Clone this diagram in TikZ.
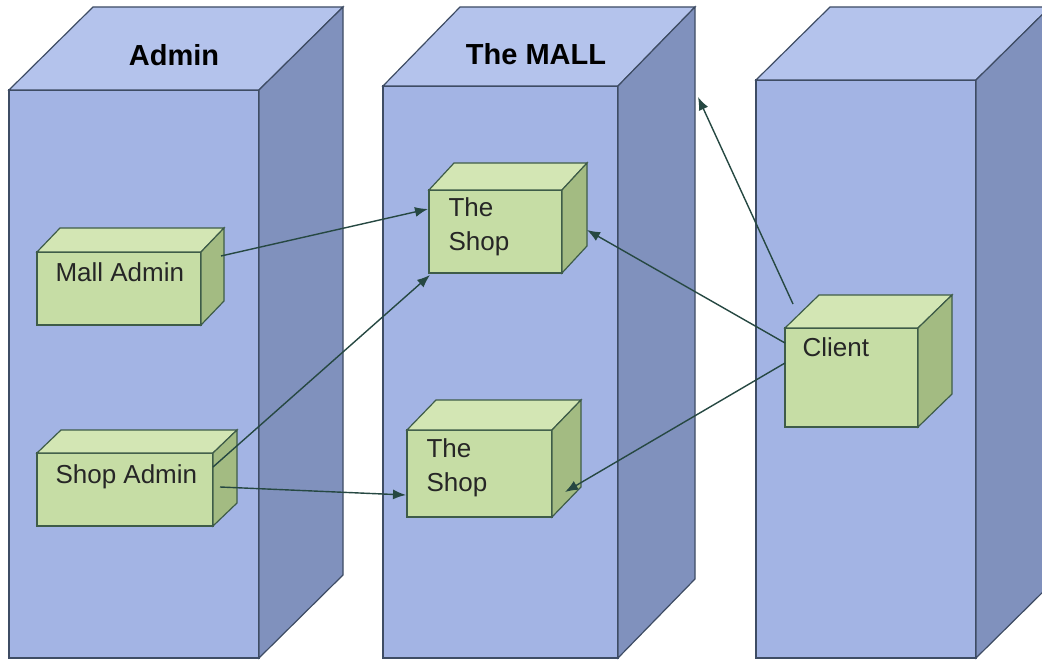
\documentclass[tikz,border=0pt]{standalone}
\usepackage{fontspec}
\setmainfont{Liberation Sans}
\usetikzlibrary{arrows.meta}

\definecolor{blueFront}{RGB}{163,180,228}
\definecolor{blueTop}{RGB}{180,195,236}
\definecolor{blueSide}{RGB}{128,145,189}
\definecolor{blueEdge}{RGB}{62,76,100}
\definecolor{greenFront}{RGB}{198,221,165}
\definecolor{greenTop}{RGB}{211,230,180}
\definecolor{greenSide}{RGB}{163,187,130}
\definecolor{greenEdge}{RGB}{62,92,72}
\definecolor{linkCol}{RGB}{38,72,66}

\tikzset{
  x=1pt, y=-1pt,
  column/.style={rectangle, fill=blueFront, draw=blueEdge, line width=1.2pt,
    inner sep=0pt, outer sep=0pt, anchor=north west},
  part/.style={rectangle, fill=greenFront, draw=greenEdge, line width=1.3pt,
    inner sep=0pt, outer sep=0pt, anchor=north west},
  title/.style={font=\fontsize{29}{34}\selectfont\bfseries, text=black, anchor=base},
  label/.style={font=\fontsize{26}{30}\selectfont, text=black!85, anchor=base west},
  link/.style={draw=linkCol, line width=1.4pt, -{Latex[length=13pt,width=10pt]}},
}

% top and right faces of a box whose front face is node #1, depth (#2,#3)
\newcommand\boxdepth[6]{%
  \draw[fill=#4, draw=#6, line width=1.2pt, line join=miter]
    (#1.north west) -- ++(#2,-#3) -- ([shift={(#2,-#3)}]#1.north east)
    -- (#1.north east) -- cycle;
  \draw[fill=#5, draw=#6, line width=1.2pt, line join=miter]
    (#1.north east) -- ++(#2,-#3) -- ([shift={(#2,-#3)}]#1.south east)
    -- (#1.south east) -- cycle;
}

\begin{document}
\begin{tikzpicture}
\useasboundingbox (0,0) rectangle (1042,660);
\fill[white] (0,0) rectangle (1042,660);
\clip (0,0) rectangle (1042,660);

% the three columns
\node[column, minimum width=250pt, minimum height=568pt] (admin) at (9,90) {};
\boxdepth{admin}{84}{83}{blueTop}{blueSide}{blueEdge}
\node[column, minimum width=235pt, minimum height=572pt] (mall) at (383,86) {};
\boxdepth{mall}{77}{79}{blueTop}{blueSide}{blueEdge}
\node[column, minimum width=220pt, minimum height=578pt] (clientcol) at (756,80) {};
\boxdepth{clientcol}{74}{73}{blueTop}{blueSide}{blueEdge}

\node[title] (admintitle) at (174,66) {Admin};
\node[title] (malltitle) at (536,65) {The MALL};

% the parts inside the columns
\node[part, minimum width=164pt, minimum height=73pt] (malladmin) at (37,252) {};
\boxdepth{malladmin}{23}{24}{greenTop}{greenSide}{greenEdge}
\node[label] (malladmintext) at (52,282) {Mall Admin};

\node[part, minimum width=176pt, minimum height=73pt] (shopadmin) at (37,453) {};
\boxdepth{shopadmin}{24}{23}{greenTop}{greenSide}{greenEdge}
\node[label] (shopadmintext) at (52,483) {Shop Admin};

\node[part, minimum width=133pt, minimum height=83pt] (shopa) at (429,190) {};
\boxdepth{shopa}{25}{27}{greenTop}{greenSide}{greenEdge}
\node[label] (shopathe) at (445,217) {The};
\node[label] (shopashop) at (445,251) {Shop};

\node[part, minimum width=145pt, minimum height=87pt] (shopb) at (407,430) {};
\boxdepth{shopb}{29}{30}{greenTop}{greenSide}{greenEdge}
\node[label] (shopbthe) at (423,457) {The};
\node[label] (shopbshop) at (423,491) {Shop};

\node[part, minimum width=133pt, minimum height=99pt] (client) at (785,328) {};
\boxdepth{client}{34}{33}{greenTop}{greenSide}{greenEdge}
\node[label] (clienttext) at (799,356) {Client};

% connector end points on the box faces
\coordinate (mallAdminOut) at (221,256);
\coordinate (shopAdminUp) at (213,467);
\coordinate (shopAdminOut) at (220,487);
\coordinate (shopAIn) at (428,209);
\coordinate (shopALow) at (430,275);
\coordinate (shopASide) at (587,230);
\coordinate (shopBIn) at (406,495);
\coordinate (shopBSide) at (565,492);
\coordinate (clientTop) at (793,304);
\coordinate (clientUp) at (785,343);
\coordinate (clientLow) at (785,363);
\coordinate (mallSide) at (698,97);

\draw[link] (mallAdminOut) -- (shopAIn);
\draw[link] (shopAdminUp) -- (shopALow);
\draw[link] (shopAdminOut) -- (shopBIn);
\draw[link] (clientUp) -- (shopASide);
\draw[link] (clientLow) -- (shopBSide);
\draw[link] (clientTop) -- (mallSide);
\end{tikzpicture}
\end{document}
